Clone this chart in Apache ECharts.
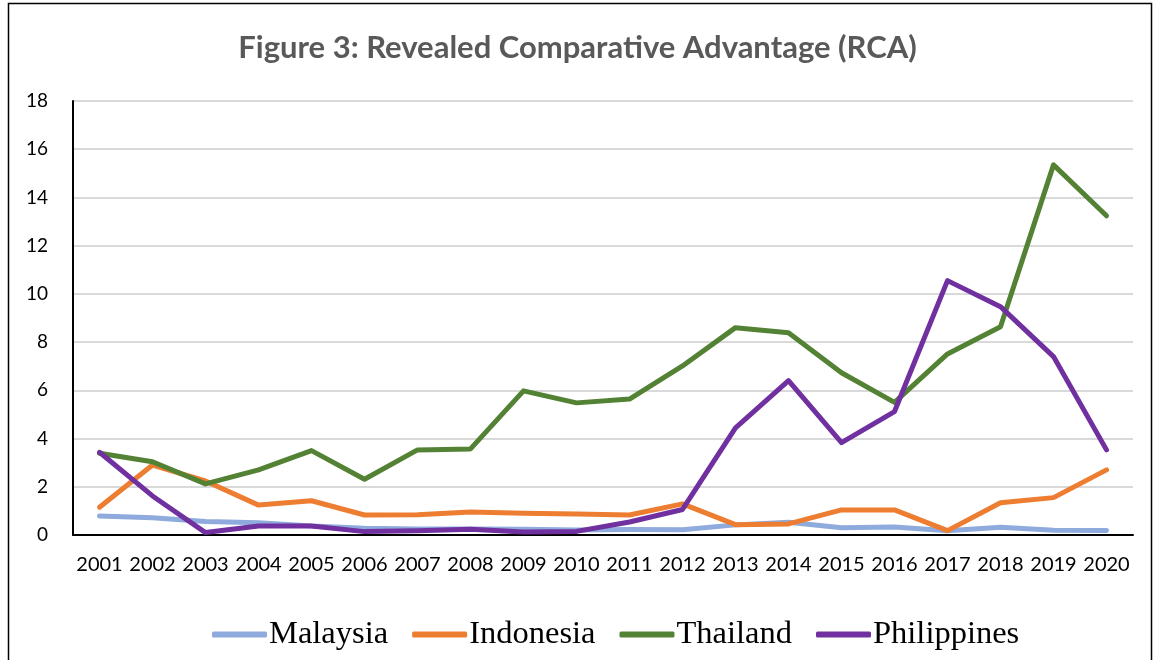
<!DOCTYPE html>
<html><head><meta charset="utf-8">
<script src="https://cdn.jsdelivr.net/npm/echarts@6/dist/echarts.min.js"></script>
<style>html,body{margin:0;padding:0;background:#fff}#c{width:1155px;height:660px}</style>
</head><body><div id="c"></div>
<script>
const years = ['2001','2002','2003','2004','2005','2006','2007','2008','2009','2010','2011','2012','2013','2014','2015','2016','2017','2018','2019','2020'];
const malaysia    = [0.79,0.72,0.56,0.51,0.37,0.28,0.25,0.25,0.24,0.21,0.23,0.22,0.42,0.53,0.3,0.33,0.18,0.32,0.2,0.19];
const indonesia   = [1.15,2.9,2.24,1.24,1.42,0.83,0.84,0.95,0.9,0.87,0.83,1.29,0.43,0.46,1.04,1.04,0.18,1.34,1.55,2.7];
const thailand    = [3.39,3.04,2.12,2.7,3.5,2.31,3.53,3.57,5.98,5.48,5.64,7.01,8.6,8.39,6.73,5.5,7.51,8.64,15.35,13.24];
const philippines = [3.43,1.62,0.1,0.37,0.37,0.14,0.18,0.24,0.12,0.15,0.54,1.06,4.44,6.4,3.83,5.12,10.55,9.47,7.4,3.53];
const yTicks = {min:0, max:18, interval:2};

const chart = echarts.init(document.getElementById('c'), null, {renderer:'canvas'});
const mk = (name, data, color) => ({
  name, type:'line', data, showSymbol:false, symbol:'none',
  lineStyle:{color, width:5, cap:'round', join:'round'}, itemStyle:{color}
});
chart.setOption({
  animation:false,
  title:{text:'Figure 3: Revealed Comparative Advantage (RCA)', left:'center', top:27,
    textStyle:{fontFamily:'Lato', fontWeight:'bold', fontSize:31, color:'#595959'}},
  graphic:[{type:'rect', shape:{x:8.5,y:3.5,width:1143,height:720}, style:{fill:'none', stroke:'#000', lineWidth:1.5}, silent:true}],
  grid:{left:73, right:22, top:101, bottom:125},
  legend:{bottom:4, left:207, itemWidth:55, itemHeight:6, itemGap:24, icon:'roundRect',
    textStyle:{fontFamily:'Liberation Serif', fontSize:32.5, color:'#000', padding:[0,0,0,-3]},
    data:['Malaysia','Indonesia','Thailand','Philippines']},
  xAxis:{type:'category', data:years, boundaryGap:true,
    axisLine:{lineStyle:{color:'#000', width:2}}, axisTick:{show:false},
    axisLabel:{fontFamily:'Lato', fontSize:20, color:'#000', margin:20, interval:0}},
  yAxis:{type:'value', min:yTicks.min, max:yTicks.max, interval:yTicks.interval,
    axisLine:{show:true, lineStyle:{color:'#000', width:2}}, axisTick:{show:false},
    splitLine:{lineStyle:{color:'#d9d9d9', width:2}},
    axisLabel:{fontFamily:'Lato', fontSize:19, color:'#000', margin:25}},
  series:[mk('Malaysia',malaysia,'#8faadc'), mk('Indonesia',indonesia,'#ed7d31'),
          mk('Thailand',thailand,'#548235'), mk('Philippines',philippines,'#7030a0')]
});
</script></body></html>
